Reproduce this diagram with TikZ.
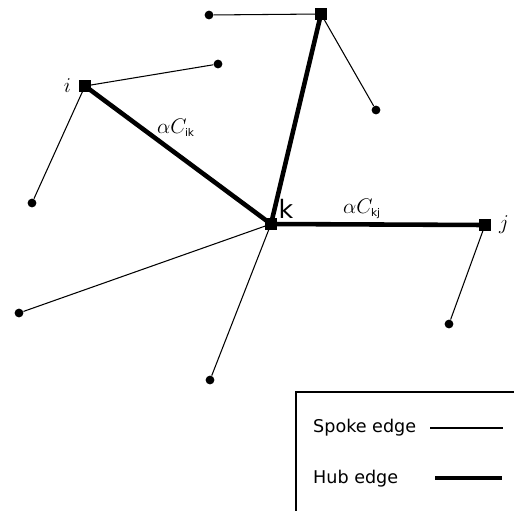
\documentclass[tikz,border=0pt]{standalone}
\usepackage{fontspec}
\setsansfont{DejaVu Sans}
\usetikzlibrary{positioning}

\begin{document}
\begin{tikzpicture}[
  x=0.02cm, y=-0.02cm,
  hub/.style={rectangle,fill,inner sep=0pt,minimum size=6.5pt},
  leaf/.style={circle,fill,inner sep=0pt,minimum size=5pt},
  spoke/.style={line width=0.6pt},
  hubedge/.style={line width=2.6pt},
  lbl/.style={font=\sffamily\fontsize{10}{12}\selectfont}
]
\useasboundingbox (0,0) rectangle (514,511);
% hubs
\node[hub] (k) at (271,224) {};
\node[hub] (i) at (85,86) {};
\node[hub] (j) at (485,225) {};
\node[hub] (t) at (321,14) {};
% spoke ends
\node[leaf] (t1) at (209,15) {};
\node[leaf] (t2) at (376,110) {};
\node[leaf] (i1) at (218,64) {};
\node[leaf] (i2) at (32,203) {};
\node[leaf] (k1) at (19,313) {};
\node[leaf] (k2) at (210,380) {};
\node[leaf] (j1) at (449,324) {};
% hub edges
\draw[hubedge] (i.center) -- (k.center);
\draw[hubedge] (t.center) -- (k.center);
\draw[hubedge] (k.center) -- (j.center);
% spoke edges
\foreach \h/\s in {t/t1,t/t2,i/i1,i/i2,k/k1,k/k2,j/j1}
  \draw[spoke] (\h.center) -- (\s);
% labels
\node[left=1pt of i, font=\large] (ilab) {$i$};
\node[right=1pt of j, font=\large] (jlab) {$j$};
\node[font=\sffamily\Large] (klab) at (286,209) {k};
\node[font=\large] (cik) at (176,128) {$\alpha C_{\mathsf{\scriptscriptstyle ik}}$};
\node[font=\large] (ckj) at (362,209) {$\alpha C_{\mathsf{\scriptscriptstyle kj}}$};
% legend
\draw[line width=0.6pt] (514,392) -- (296,392) -- (296,511);
\node[lbl, anchor=west] (spk) at (307,428) {Spoke edge};
\node[lbl, anchor=west] (hbe) at (307,479) {Hub edge};
\coordinate (s1) at (430,428);
\coordinate (s2) at (503,428);
\coordinate (h1) at (435,478);
\coordinate (h2) at (502,478);
\draw[spoke] (s1) -- (s2);
\draw[line width=1.8pt] (h1) -- (h2);
\end{tikzpicture}
\end{document}
